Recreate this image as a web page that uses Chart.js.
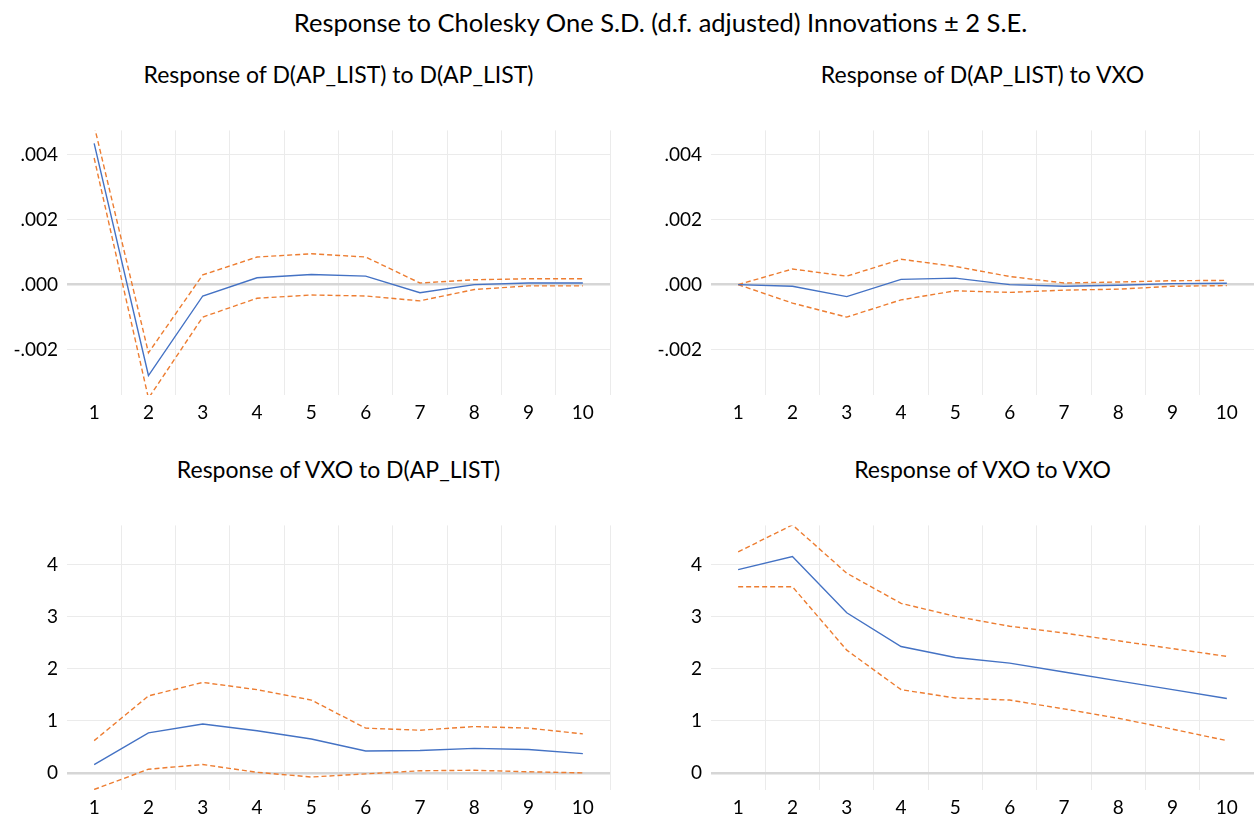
<!DOCTYPE html>
<html>
<head>
<meta charset="utf-8">
<script src="https://cdn.jsdelivr.net/npm/chart.js@4/dist/chart.umd.min.js"></script>
<style>
  body { margin: 0; background: #fff; font-family: Lato, "Open Sans", sans-serif; color: #000; }
  #page { position: relative; width: 1254px; height: 822px; overflow: hidden; }
  .title { position: absolute; text-align: center; white-space: nowrap; line-height: 1.2; }
  #main-title { left: 67px; width: 1187px; top: 7px; font-size: 25.5px; }
  .sub { font-size: 23px; width: 543px; }
  .panel { position: absolute; }
</style>
</head>
<body>
<div id="page">
  <div id="main-title" class="title">Response to Cholesky One S.D. (d.f. adjusted) Innovations ± 2 S.E.</div>
  <div class="title sub" style="left:67px; top:61px;">Response of D(AP_LIST) to D(AP_LIST)</div>
  <div class="title sub" style="left:711px; top:61px;">Response of D(AP_LIST) to VXO</div>
  <div class="title sub" style="left:67px; top:456px;">Response of VXO to D(AP_LIST)</div>
  <div class="title sub" style="left:711px; top:456px;">Response of VXO to VXO</div>

  <div class="panel" style="left:0; top:110px; width:620px; height:320px;"><canvas id="c-ap-ap"></canvas></div>
  <div class="panel" style="left:644px; top:110px; width:610px; height:320px;"><canvas id="c-ap-vxo"></canvas></div>
  <div class="panel" style="left:0; top:505px; width:620px; height:317px;"><canvas id="c-vxo-ap"></canvas></div>
  <div class="panel" style="left:644px; top:505px; width:610px; height:317px;"><canvas id="c-vxo-vxo"></canvas></div>
</div>
<script>
// periods after the shock
const periods = ['1', '2', '3', '4', '5', '6', '7', '8', '9', '10'];

// Response of D(AP_LIST) to D(AP_LIST)
const apApResp  = [0.00435, -0.0028, -0.00035, 0.00021, 0.00031, 0.00026, -0.00025, 0.0, 0.00005, 0.00005];
const apApUpper = [0.0049, -0.0021, 0.0003, 0.00085, 0.00095, 0.00085, 0.00005, 0.00015, 0.00018, 0.00018];
const apApLower = [0.0039, -0.0035, -0.001, -0.00042, -0.00032, -0.00035, -0.0005, -0.00015, -0.00004, -0.00004];

// Response of D(AP_LIST) to VXO
const apVxoResp  = [0, -0.00005, -0.00037, 0.00016, 0.0002, 0, -0.00005, -0.00002, 0.00003, 0.00004];
const apVxoUpper = [0, 0.00048, 0.00026, 0.00078, 0.00056, 0.00025, 0.00005, 0.00008, 0.00012, 0.00013];
const apVxoLower = [0, -0.00057, -0.001, -0.00047, -0.00019, -0.00024, -0.00017, -0.00014, -0.00005, -0.00003];

// Response of VXO to D(AP_LIST)
const vxoApResp  = [0.16, 0.77, 0.94, 0.81, 0.65, 0.42, 0.43, 0.47, 0.45, 0.37];
const vxoApUpper = [0.62, 1.48, 1.74, 1.6, 1.4, 0.86, 0.82, 0.89, 0.86, 0.75];
const vxoApLower = [-0.32, 0.07, 0.16, 0.01, -0.08, -0.02, 0.04, 0.05, 0.02, 0.0];

// Response of VXO to VXO
const vxoVxoResp  = [3.91, 4.16, 3.08, 2.43, 2.22, 2.11, 1.94, 1.77, 1.6, 1.43];
const vxoVxoUpper = [4.25, 4.77, 3.84, 3.26, 3.01, 2.82, 2.69, 2.54, 2.39, 2.24];
const vxoVxoLower = [3.58, 3.58, 2.36, 1.6, 1.44, 1.4, 1.23, 1.05, 0.84, 0.62];

// y tick values and labels
const apTicks = [-0.002, 0, 0.002, 0.004];
const apTickLabels = ['-.002', '.000', '.002', '.004'];
const vxoTicks = [0, 1, 2, 3, 4];
const vxoTickLabels = ['0', '1', '2', '3', '4'];

const BLUE = '#4472C4';
const ORANGE = '#ED7D31';
const FONT = { family: 'Lato, "Open Sans", sans-serif', size: 19 };

function makeChart(id, resp, upper, lower, ticks, tickLabels, yMin, yMax, opts) {
    const ctx = document.getElementById(id).getContext('2d');
    return new Chart(ctx, {
        type: 'line',
        data: {
            labels: periods,
            datasets: [
                { data: resp, borderColor: BLUE, borderWidth: 1.4, pointRadius: 0, tension: 0 },
                { data: upper, borderColor: ORANGE, borderWidth: 1.4, borderDash: [5, 3], pointRadius: 0, tension: 0 },
                { data: lower, borderColor: ORANGE, borderWidth: 1.4, borderDash: [5, 3], pointRadius: 0, tension: 0 }
            ]
        },
        options: {
            responsive: true,
            maintainAspectRatio: false,
            animation: false,
            layout: { padding: { top: opts.padTop, right: opts.padRight, left: 0, bottom: 0 } },
            plugins: { legend: { display: false }, tooltip: { enabled: false }, title: { display: false } },
            scales: {
                x: {
                    offset: true,
                    border: { display: false },
                    grid: {
                        offset: true,
                        drawTicks: false,
                        color: c => (c.index === 0 || c.index >= periods.length) ? 'rgba(0,0,0,0)' : '#ebebeb',
                        lineWidth: 1
                    },
                    ticks: { font: FONT, color: '#000', padding: 6, maxRotation: 0, autoSkip: false },
                    afterFit: scale => { scale.height = opts.xHeight; }
                },
                y: {
                    min: yMin,
                    max: yMax,
                    border: { display: false },
                    grid: {
                        drawTicks: false,
                        color: c => (c.tick && c.tick.value === 0) ? '#d6d6d6' : '#ebebeb',
                        lineWidth: c => (c.tick && c.tick.value === 0) ? 2.5 : 1
                    },
                    afterBuildTicks: scale => { scale.ticks = ticks.map(v => ({ value: v })); },
                    ticks: {
                        font: FONT,
                        color: '#000',
                        padding: 9,
                        callback: (value) => {
                            const i = ticks.indexOf(value);
                            return i >= 0 ? tickLabels[i] : '';
                        }
                    },
                    afterFit: scale => { scale.width = 67; }
                }
            }
        }
    });
}

makeChart('c-ap-ap', apApResp, apApUpper, apApLower, apTicks, apTickLabels, -0.0034, 0.00475,
    { padTop: 13, padRight: 10, xHeight: 35 });
makeChart('c-ap-vxo', apVxoResp, apVxoUpper, apVxoLower, apTicks, apTickLabels, -0.0034, 0.00475,
    { padTop: 13, padRight: 0, xHeight: 35 });
makeChart('c-vxo-ap', vxoApResp, vxoApUpper, vxoApLower, vxoTicks, vxoTickLabels, -0.33, 4.76,
    { padTop: 14, padRight: 10, xHeight: 32 });
makeChart('c-vxo-vxo', vxoVxoResp, vxoVxoUpper, vxoVxoLower, vxoTicks, vxoTickLabels, -0.33, 4.76,
    { padTop: 14, padRight: 0, xHeight: 32 });
</script>
</body>
</html>
